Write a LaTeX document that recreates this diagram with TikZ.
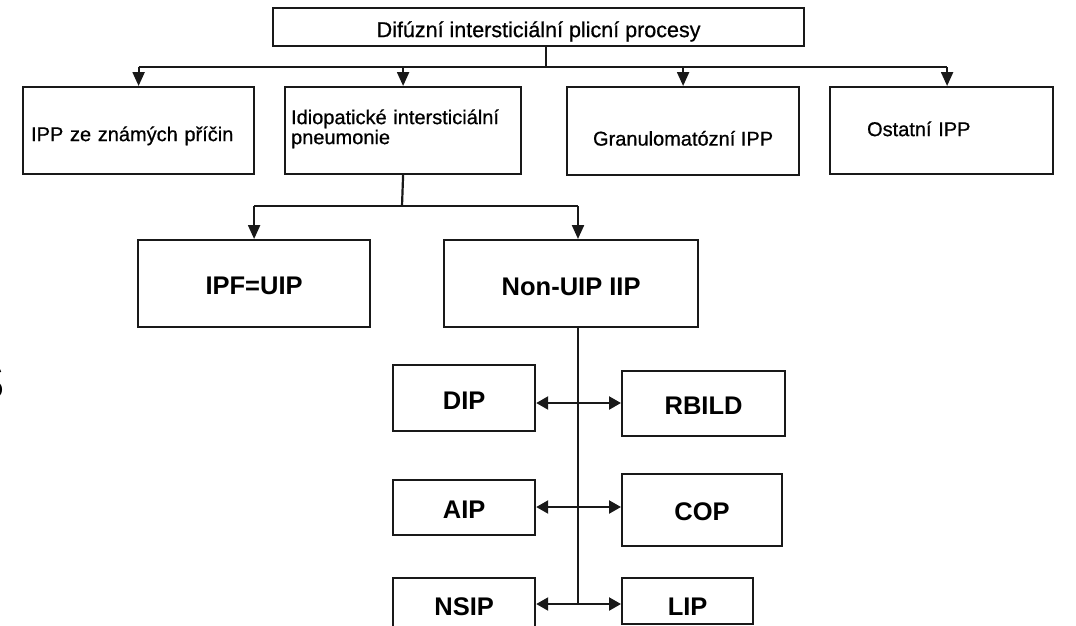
\documentclass[tikz,border=0pt]{standalone}
\usepackage{fontspec}
\setmainfont{Liberation Sans}
\newfontfamily\heavysans[FakeBold=0.7]{Liberation Sans}
\usetikzlibrary{arrows.meta}
\begin{document}
\begin{tikzpicture}[x=1pt,y=-1pt,
  box/.style={draw=black!90, line width=2.2pt, inner sep=0pt, anchor=north west, text depth=0pt},
  sz/.style 2 args={minimum width=#1, minimum height=#2},
  plain/.style={font=\heavysans\fontsize{20}{20}\selectfont},
  big/.style={font=\fontsize{25.5}{26}\selectfont\bfseries},
  leftcell/.style 2 args={align=left, inner xsep=#1, text width=#2},
  line/.style={draw=black!90, line width=2.2pt},
  arr/.style={line, -{Triangle[length=14pt,width=12pt]}},
  darr/.style={line, {Triangle[length=12pt,width=13pt]}-{Triangle[length=12pt,width=13pt]}}]

\useasboundingbox (0,0) rectangle (1076,625);
\fill[white] (0,0) rectangle (1076,625);

% top level
\node[box, sz={531pt}{38pt}, text height=20pt, font=\heavysans\fontsize{21.5}{22}\selectfont] (top) at (272,7)
  {Difúzní intersticiální plicní procesy};

% second row
\node[box, plain, sz={231pt}{87pt}, leftcell={8pt}{215pt}, text height=21pt] (known) at (22,86)
  {IPP ze známých příčin};
\node[box, plain, sz={236pt}{87pt}, leftcell={6pt}{224pt}, text height=0pt, text depth=13pt] (idio) at (284,86)
  {Idiopatické intersticiální\\pneumonie};
\node[box, plain, sz={232pt}{88pt}, text height=29pt] (gran) at (566,86)
  {Granulomatózní IPP};
\node[box, plain, sz={223pt}{87pt}, leftcell={37pt}{149pt}, text height=11pt] (ost) at (829,86)
  {Ostatní IPP};

% third row
\node[box, big, sz={232pt}{87pt}, text height=21pt] (ipf) at (137,239) {IPF=UIP};
\node[box, big, sz={254pt}{87pt}, text height=23pt] (nonuip) at (443,239) {Non-UIP IIP};

% non-UIP subtypes
\node[box, big, sz={142pt}{66pt}, text height=22pt] (dip) at (392,364) {DIP};
\node[box, big, sz={163pt}{65pt}, text height=21pt] (rbild) at (621,370) {RBILD};
\node[box, big, sz={142pt}{55pt}, text height=21pt] (aip) at (392,479) {AIP};
\node[box, big, sz={160pt}{72pt}, text height=20pt] (cop) at (621,473) {COP};
\node[box, big, sz={142pt}{73pt}, text height=1pt] (nsip) at (392,577) {NSIP};
\node[box, big, sz={131pt}{46pt}, text height=28pt] (lip) at (621,577) {LIP};

% letter cut by the left edge
\node[anchor=base east, inner sep=0pt, font=\fontsize{50}{50}\selectfont] (frag) at (5.5,399) {S};

% connectors from the top box
\coordinate (j1) at (546,67);
\draw[line] (top.south -| j1) -- (j1);
\draw[line] (known.north |- j1) -- ([xshift=5.5pt]ost.north |- j1);
\draw[arr] (known.north |- j1) -- (known.north);
\draw[arr] (idio.north |- j1) -- (idio.north);
\draw[arr] (gran.north |- j1) -- (gran.north);
\draw[arr] ([xshift=5.5pt]ost.north |- j1) -- ([xshift=5.5pt]ost.north);

% idiopathic branch
\coordinate (j2) at (402,206);
\coordinate (sp) at (578,206);
\draw[line] (idio.south) -- (j2);
\draw[line] (ipf.north |- j2) -- (sp);
\draw[arr] (ipf.north |- j2) -- (ipf.north);
\draw[arr] (sp) -- (sp |- nonuip.north);

% spine of the non-UIP group
\coordinate (r1) at (578,403);
\coordinate (r2) at (578,507);
\coordinate (r3) at (578,604);
\draw[line] (sp |- nonuip.south) -- (r3);
\draw[darr] (r1 -| dip.east) -- (r1 -| rbild.west);
\draw[darr] (r2 -| aip.east) -- (r2 -| cop.west);
\draw[darr] (r3 -| nsip.east) -- (r3 -| lip.west);
\end{tikzpicture}
\end{document}
